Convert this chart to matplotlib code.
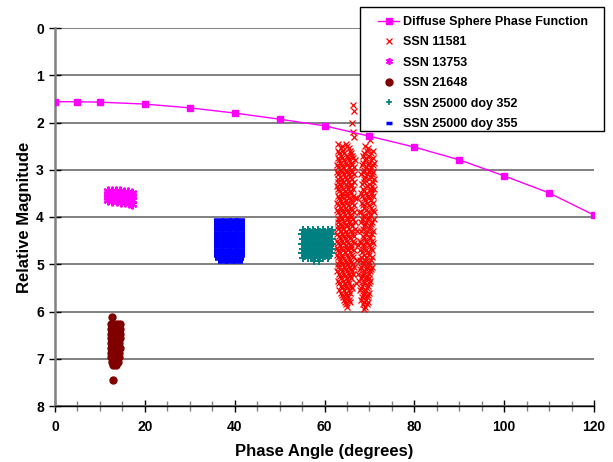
import matplotlib.pyplot as plt
from matplotlib.lines import Line2D
from matplotlib.patches import Rectangle

plt.rcParams['font.family'] = ['Liberation Sans', 'DejaVu Sans']
plt.rcParams['font.weight'] = 'bold'

# diffuse sphere phase function
phase = [0, 5, 10, 20, 30, 40, 50, 60, 70, 80, 90, 100, 110, 120]
sphere = [1.56, 1.56, 1.57, 1.61, 1.69, 1.80, 1.93, 2.07, 2.29, 2.52, 2.79, 3.13, 3.49, 3.96]

# SSN 13753
s13753_x = [11.7, 12.6, 13.5, 14.4, 15.3, 16.2, 17.2,
            11.8, 12.7, 13.6, 14.5, 15.4, 16.3, 17.1,
            11.7, 12.6, 13.5, 14.4, 15.3, 16.2, 17.2,
            11.9, 12.8, 13.7, 14.6, 15.5, 16.4, 17.1]
s13753_y = [3.44, 3.45, 3.45, 3.46, 3.47, 3.48, 3.49,
            3.51, 3.52, 3.52, 3.53, 3.54, 3.55, 3.56,
            3.58, 3.59, 3.60, 3.61, 3.62, 3.63, 3.64,
            3.65, 3.66, 3.67, 3.68, 3.69, 3.71, 3.72]

# SSN 21648
s21648_rows_y = [6.12, 6.27, 6.37, 6.47, 6.57, 6.67, 6.77, 6.87, 6.97, 7.07, 7.14, 7.44]
s21648_rows_x = [[12.6], [12.5, 13.2, 13.9, 14.4], [12.4, 13.0, 13.7, 14.4],
                 [12.5, 13.1, 13.8, 14.4], [12.4, 13.0, 13.7, 14.4], [12.5, 13.1, 13.8, 14.3],
                 [12.4, 13.0, 13.7, 14.4], [12.5, 13.1, 13.8, 14.3], [12.5, 13.1, 13.8, 14.3],
                 [12.6, 13.3, 14.0], [12.9, 13.6], [12.85]]

# SSN 25000 doy 352
d352_rows_y = [4.27, 4.32, 4.37, 4.42, 4.47, 4.52, 4.57, 4.62, 4.67, 4.72, 4.77, 4.82, 4.86, 4.93]
d352_rows_x = [[55.2, 56.3, 57.4, 58.5, 59.6, 60.7, 61.7],
               [55.7, 56.8, 57.9, 59.0, 60.1, 61.2],
               [55.0, 56.1, 57.2, 58.3, 59.4, 60.5, 61.6],
               [55.6, 56.7, 57.8, 59.0, 60.0, 61.1],
               [55.3, 56.4, 57.5, 58.6, 59.7, 60.8, 61.7],
               [55.8, 56.9, 58.0, 59.1, 60.2, 61.3],
               [55.1, 56.2, 57.3, 58.4, 59.5, 60.6, 61.6],
               [55.6, 56.7, 57.9, 58.9, 60.1, 61.2],
               [55.2, 56.3, 57.4, 58.5, 59.6, 60.7, 61.7],
               [55.7, 56.8, 57.8, 59.0, 60.0, 61.1],
               [55.0, 56.1, 57.2, 58.3, 59.4, 60.5, 61.5],
               [55.6, 56.9, 57.9, 59.1, 60.1, 61.0],
               [55.3, 56.4, 57.5, 58.6, 59.7, 60.8],
               [57.6, 58.8]]

# SSN 25000 doy 355
d355_rows_y = [4.08, 4.17, 4.26, 4.35, 4.44, 4.53, 4.62, 4.71, 4.80, 4.86, 4.93]
d355_rows_x = [[36.5, 38.2, 39.9, 41.2], [36.6, 38.3, 40.0, 41.2], [36.5, 38.1, 39.8, 41.1],
               [36.6, 38.2, 39.9, 41.2], [36.5, 38.3, 40.0, 41.2], [36.6, 38.2, 39.9, 41.1],
               [36.5, 38.1, 39.8, 41.2], [36.6, 38.2, 39.9, 41.2], [36.5, 38.3, 40.0, 41.1],
               [36.7, 38.2, 39.8, 41.0], [37.5, 39.0, 40.8]]

# SSN 11581
s11581_rows_y = [1.62, 1.75, 2.02, 2.20, 2.30, 2.38, 2.45, 2.55, 2.65, 2.75, 2.85, 2.95, 3.05,
                 3.15, 3.25, 3.35, 3.45, 3.55, 3.65, 3.75, 3.85, 3.95, 4.05, 4.15, 4.25,
                 4.35, 4.45, 4.55, 4.65, 4.75, 4.85, 4.95, 5.05, 5.15, 5.25, 5.35, 5.45,
                 5.55, 5.65, 5.75, 5.85, 5.95]
s11581_rows_x = [[66.3], [66.5], [66.2], [66.4], [66.6], [70.1],
                 [63.0, 64.8], [63.6, 65.4, 69.6], [63.2, 64.4, 65.9, 68.8, 70.3],
                 [62.9, 64.0, 65.2, 66.4, 69.3, 70.8], [63.5, 64.7, 65.8, 68.6, 69.9, 71.0],
                 [63.1, 64.2, 65.4, 66.6, 69.2, 70.4], [62.8, 63.9, 65.0, 66.1, 68.5, 69.8, 70.9],
                 [63.4, 64.6, 65.7, 69.1, 70.3], [63.0, 64.1, 65.3, 66.5, 68.7, 70.8],
                 [62.7, 63.7, 64.9, 66.0, 69.4, 70.5], [63.3, 64.5, 65.6, 68.9, 70.1],
                 [62.9, 64.0, 65.1, 66.3, 68.4, 69.6, 70.9], [63.5, 64.7, 65.8, 69.0, 70.4],
                 [63.0, 64.2, 65.3, 66.6, 68.6, 70.0], [62.7, 63.8, 65.0, 66.1, 69.3, 70.7],
                 [63.4, 64.5, 65.6, 68.8, 70.2], [62.9, 64.0, 65.2, 66.4, 68.3, 69.6, 71.1],
                 [63.5, 64.8, 65.9, 69.0, 70.4], [63.1, 64.2, 65.4, 66.7, 68.5, 69.8],
                 [62.8, 63.8, 65.0, 66.2, 69.3, 70.6], [63.4, 64.6, 65.7, 68.7, 70.1],
                 [63.0, 64.1, 65.3, 66.5, 68.2, 69.5, 70.9], [62.7, 63.7, 64.9, 66.0, 68.9, 70.3],
                 [63.3, 64.5, 65.6, 68.4, 69.7], [62.9, 64.0, 65.2, 66.4, 68.1, 69.2, 70.5],
                 [63.5, 64.7, 65.8, 68.6, 69.9], [63.1, 64.3, 65.4, 66.6, 68.2, 69.4, 70.6],
                 [62.8, 63.9, 65.0, 66.1, 68.8, 70.1], [63.4, 64.6, 65.7, 68.3, 69.5],
                 [63.0, 64.2, 65.3, 67.7, 68.9, 70.2], [63.6, 64.8, 65.9, 68.4, 69.6],
                 [63.3, 64.4, 65.5, 67.9, 69.1], [63.9, 65.1, 68.5, 69.7],
                 [64.3, 65.4, 68.1, 69.2], [64.8, 68.6, 69.5], [68.9]]
s11581_more_y = [2.50, 2.60, 2.70, 2.80, 2.90, 3.00, 3.10, 3.20, 3.30, 3.40, 3.50, 3.60,
                 3.70, 3.80, 3.90, 4.00, 4.10, 4.20, 4.30, 4.40, 4.50, 4.60, 4.70, 4.80,
                 4.90, 5.00, 5.10, 5.20, 5.30, 5.40, 5.50, 5.60, 5.70, 5.80, 5.90]
s11581_more_x = [[63.9, 65.1, 69.1], [62.9, 64.1, 65.6, 69.4, 70.7],
                 [63.6, 64.9, 66.1, 68.5, 69.8], [63.3, 64.3, 65.5, 66.7, 69.0, 70.4],
                 [62.8, 63.9, 65.1, 66.2, 68.3, 69.6, 70.7], [63.6, 64.8, 65.9, 68.9, 70.1],
                 [63.1, 64.3, 65.4, 66.6, 68.2, 69.4, 70.6], [62.9, 63.8, 65.0, 66.2, 68.9, 69.9, 71.1],
                 [63.5, 64.7, 65.9, 68.4, 69.8], [63.0, 64.2, 65.3, 66.4, 68.6, 70.3, 71.0],
                 [63.8, 64.9, 66.0, 68.2, 69.3, 70.6], [63.2, 64.4, 65.5, 66.7, 67.2, 68.7, 69.9],
                 [62.8, 63.9, 65.1, 66.2, 68.3, 69.4, 70.7], [63.6, 64.8, 65.9, 68.9, 70.3],
                 [63.1, 64.2, 65.3, 66.5, 67.6, 68.2, 69.8, 71.0], [63.7, 64.9, 66.0, 68.7, 70.0],
                 [63.0, 64.3, 65.5, 66.8, 68.1, 69.3, 70.6], [62.9, 63.9, 65.0, 66.2, 68.8, 70.2],
                 [63.6, 64.8, 65.9, 67.3, 68.2, 69.5, 70.8], [63.2, 64.3, 65.4, 66.6, 68.6, 70.0],
                 [62.8, 63.9, 65.1, 66.3, 68.0, 69.2, 70.5], [63.5, 64.7, 65.8, 67.5, 68.6, 69.9],
                 [63.1, 64.2, 65.3, 66.5, 68.0, 69.3, 70.6], [62.8, 63.8, 65.0, 66.2, 68.7, 69.9],
                 [63.4, 64.5, 65.6, 67.2, 67.8, 69.1, 70.3], [63.0, 64.1, 65.2, 66.4, 68.5, 69.7],
                 [63.6, 64.8, 65.9, 68.0, 69.2, 70.4], [63.2, 64.3, 65.4, 66.3, 67.4, 68.6, 69.8],
                 [63.7, 64.9, 66.0, 68.1, 69.3, 70.0], [63.3, 64.5, 65.5, 67.1, 68.7, 69.9],
                 [63.9, 65.0, 66.1, 68.2, 69.4], [63.6, 64.7, 65.7, 68.8, 69.9],
                 [64.1, 65.2, 68.4, 69.4], [64.5, 65.6, 68.8, 69.7], [65.0, 69.1]]


def flat(rows_y, rows_x):
    xs = [x for row in rows_x for x in row]
    ys = [y for y, row in zip(rows_y, rows_x) for _ in row]
    return xs, ys


fig = plt.figure(figsize=(6.13, 4.62), dpi=100)
ax = fig.add_axes([55 / 613, 1 - 406 / 462, 539 / 613, 378 / 462])

x, y = flat(s11581_rows_y + s11581_more_y, s11581_rows_x + s11581_more_x)
ax.plot(x, y, 'x', color='#FF0000', ms=5, mew=0.9, zorder=3)
ax.plot(s13753_x, s13753_y, marker=(6, 2, 0), ls='none', color='#FF00FF', ms=7, mew=1.5, zorder=3)
x, y = flat(s21648_rows_y, s21648_rows_x)
ax.plot(x, y, 'o', color='#800000', ms=5, zorder=3)
x, y = flat(d352_rows_y, d352_rows_x)
ax.plot(x, y, '+', color='#008080', ms=6, mew=1.4, zorder=3)
x, y = flat(d355_rows_y, d355_rows_x)
ax.plot(x, y, '_', color='#0000FF', ms=7, mew=4, zorder=3)
ax.plot(phase, sphere, '-s', color='#FF00FF', lw=1, ms=4.5, zorder=4)

ax.set_xlim(0, 120)
ax.set_ylim(8, 0)
ax.set_xticks(range(0, 121, 20))
ax.set_xticks(range(0, 121, 5), minor=True)
ax.set_yticks(range(0, 9))
ax.yaxis.grid(True, color='#808080', lw=1.4)
ax.set_axisbelow(True)
ax.tick_params(axis='both', which='major', direction='inout', length=8, width=1,
               labelsize=10, color='black')
ax.tick_params(axis='x', which='minor', direction='inout', length=7, width=1, color='#808080')
ax.tick_params(axis='x', pad=6)
ax.tick_params(axis='y', pad=4)
for side in ['top', 'right']:
    ax.spines[side].set_visible(False)
ax.spines['left'].set_color('#808080')
ax.spines['left'].set_linewidth(1.8)
ax.spines['bottom'].set_color('black')
ax.spines['bottom'].set_linewidth(1)
ax.set_xlabel('Phase Angle (degrees)', fontsize=12, fontweight='bold', labelpad=7)
ax.set_ylabel('Relative Magnitude', fontsize=12, fontweight='bold', labelpad=3)

# legend with a hand drawn box
fig.patches.append(Rectangle((360 / 613, 1 - 131 / 462), 244 / 613, 124 / 462,
                             transform=fig.transFigure, facecolor='white',
                             edgecolor='black', lw=1, zorder=5))
handles = [
    Line2D([], [], color='#FF00FF', marker='s', ms=4.5, lw=1),
    Line2D([], [], color='#FF0000', marker='x', ls='none', ms=4.5, mew=0.9),
    Line2D([], [], color='#FF00FF', marker=(6, 2, 0), ls='none', ms=5, mew=1.2),
    Line2D([], [], color='#800000', marker='o', ls='none', ms=5),
    Line2D([], [], color='#008080', marker='+', ls='none', ms=5, mew=1.2),
    Line2D([], [], color='#0000FF', marker='_', ls='none', ms=4, mew=2.5),
]
labels = ['Diffuse Sphere Phase Function', 'SSN 11581', 'SSN 13753', 'SSN 21648',
          'SSN 25000 doy 352', 'SSN 25000 doy 355']
leg = fig.legend(handles, labels, loc='upper left', bbox_to_anchor=(378 / 613, 1 - 16 / 462),
                 frameon=False, fontsize=9, borderpad=0, borderaxespad=0,
                 handlelength=1.7, handletextpad=0.3, labelspacing=0.67)
leg.set_zorder(6)
for t in leg.get_texts():
    t.set_fontweight('bold')

fig.savefig('out.png', dpi=100)
